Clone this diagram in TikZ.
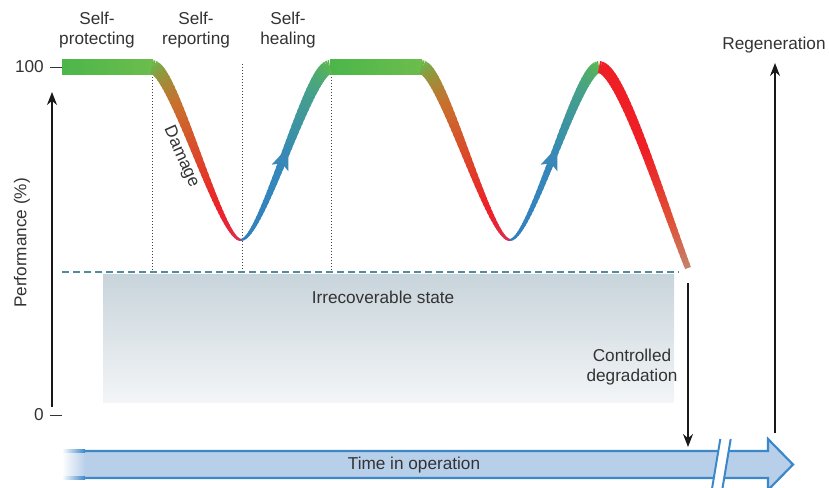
\documentclass[tikz,border=0pt]{standalone}
\usepackage{fontspec}
\setmainfont{Liberation Sans}
\usetikzlibrary{arrows.meta}
\definecolor{txt}{HTML}{333333}
\definecolor{pgreen}{HTML}{4CB64B}
\definecolor{pgreenl}{HTML}{6CBD4C}
\definecolor{dashc}{HTML}{4E8D9C}
\definecolor{greytop}{HTML}{C8D4DB}
\definecolor{greymid}{HTML}{D8E0E5}
\definecolor{greybot}{HTML}{F3F5F7}
\definecolor{tfill}{HTML}{B8CFEA}
\definecolor{tborder}{HTML}{3C87C8}
\definecolor{arrc}{HTML}{3A88B8}
\definecolor{cG}{HTML}{69B54A}
\definecolor{cO}{HTML}{C9702E}
\definecolor{cR}{HTML}{EE2026}
\definecolor{cP}{HTML}{D8305A}
\definecolor{cB}{HTML}{2F7FC1}
\definecolor{cB2}{HTML}{3587BA}
\definecolor{cT}{HTML}{45A08C}
\definecolor{cG2}{HTML}{5CB84C}
\definecolor{cE}{HTML}{E05035}
\definecolor{cF}{HTML}{C4826C}

\newcommand{\setbez}[8]{\def\Ax{#1}\def\Ay{#2}\def\Bx{#3}\def\By{#4}\def\Cx{#5}\def\Cy{#6}\def\Dx{#7}\def\Dy{#8}}
\newcommand{\setstops}[6]{\colorlet{kA}{#1}\colorlet{kB}{#2}\colorlet{kC}{#3}\colorlet{kD}{#4}\def\sA{#5}\def\sB{#6}}
\newcommand{\gcpoint}[1]{%
 \pgfmathsetmacro\gcU{1-#1}%
 \pgfmathsetmacro\gcX{\gcU*\gcU*\gcU*\Ax+3*\gcU*\gcU*#1*\Bx+3*\gcU*#1*#1*\Cx+#1*#1*#1*\Dx}%
 \pgfmathsetmacro\gcY{\gcU*\gcU*\gcU*\Ay+3*\gcU*\gcU*#1*\By+3*\gcU*#1*#1*\Cy+#1*#1*#1*\Dy}}
\newcommand{\gcsetcolor}[1]{%
 \pgfmathsetmacro\gcT{#1}%
 \ifdim\gcT pt<\sA pt
   \pgfmathsetmacro\gcP{100*\gcT/\sA}\colorlet{segc}{kB!\gcP!kA}%
 \else
  \ifdim\gcT pt<\sB pt
   \pgfmathsetmacro\gcP{100*(\gcT-\sA)/(\sB-\sA)}\colorlet{segc}{kC!\gcP!kB}%
  \else
   \pgfmathsetmacro\gcP{100*(\gcT-\sB)/(1-\sB)}\colorlet{segc}{kD!\gcP!kC}%
  \fi
 \fi}
\newcommand{\gccurve}[3]{%
 \foreach \gci in {1,...,#3}{%
  \pgfmathsetmacro\gcTa{(\gci-1)/#3}%
  \pgfmathsetmacro\gcTb{min(1,(\gci+0.5)/#3)}%
  \pgfmathsetmacro\gcTm{(\gci-0.5)/#3}%
  \gcpoint{\gcTa}\let\gcXa\gcX\let\gcYa\gcY
  \gcpoint{\gcTb}\let\gcXb\gcX\let\gcYb\gcY
  \gcsetcolor{\gcTm}%
  \pgfmathsetmacro\gcW{#1+(#2-#1)*\gcTm}%
  \draw[line width=\gcW pt, segc, line cap=butt] (\gcXa,\gcYa) -- (\gcXb,\gcYb);
 }}

\tikzset{
 lbl/.style={text=txt, font=\fontsize{17.2}{20.5}\selectfont, align=center, inner sep=0pt},
 axisarrow/.style={line width=1.3pt, black!90, -{Stealth[length=13pt,width=10pt]}},
 guide/.style={line width=0.7pt, black!75, dash pattern=on 1pt off 2pt},
 tickmark/.style={line width=0.8pt, txt},
 ahead/.style={fill=arrc},
}

\begin{document}
\begin{tikzpicture}[x=1pt,y=-1pt]
\useasboundingbox (0,0) rectangle (829,487);

% irrecoverable region
\shade[top color=greytop, middle color=greymid, bottom color=greybot] (103,274) rectangle (674,402);
\node[lbl] (irr) at (383,297) {Irrecoverable state};
\draw[line width=2pt, dashc, dash pattern=on 7pt off 4pt] (62,272) -- (679,272);

% guides
\coordinate (g1t) at (152,74); \coordinate (g1b) at (152,271);
\coordinate (g2t) at (242,64); \coordinate (g2b) at (242,271);
\coordinate (g3t) at (331,74); \coordinate (g3b) at (331,271);
\draw[guide] (g1t) -- (g1b);
\draw[guide] (g2t) -- (g2b);
\draw[guide] (g3t) -- (g3b);

% plateaus
\shade[left color=pgreen, middle color=pgreen, right color=pgreenl] (62,60) rectangle (153,74);
\shade[left color=pgreen, middle color=pgreen, right color=pgreenl] (330,60) rectangle (422,74);

% curve: damage 1
\setbez{152}{67}{173}{67}{220}{240}{241}{240}
\setstops{cG}{cO}{cR}{cP}{0.3}{0.72}
\gccurve{14}{2}{50}
% curve: healing 1
\setbez{241}{240}{262}{240}{309}{67}{330}{67}
\setstops{cB}{cB2}{cT}{cG2}{0.45}{0.75}
\gccurve{2}{14}{50}
% curve: damage 2
\setbez{421}{67}{442}{67}{489}{240}{510}{240}
\setstops{cG}{cO}{cR}{cP}{0.3}{0.72}
\gccurve{14}{2}{50}
% curve: healing 2
\setbez{510}{240}{531}{240}{578}{67}{599}{67}
\setstops{cB}{cB2}{cT}{cG2}{0.45}{0.75}
\gccurve{2}{12}{50}
% curve: final decline
\setbez{599}{67}{620}{67}{660}{195}{688}{268}
\setstops{cR}{cR}{cE}{cF}{0.55}{0.8}
\gccurve{12}{6}{50}

% arrowheads on healing curves
\fill[ahead, shift={(285.5,154)}, rotate=68.5] (8,0) -- (-15,9) -- (-10,0) -- (-15,-9) -- cycle;
\fill[ahead, shift={(554.5,154)}, rotate=68.5] (8,0) -- (-15,9) -- (-10,0) -- (-15,-9) -- cycle;

% axis
\coordinate (ax0) at (52,407); \coordinate (ax1) at (52,92);
\draw[axisarrow] (ax0) -- (ax1);
\node[lbl, anchor=east] (l100) at (44,67) {100};
\node[lbl, anchor=east] (l0) at (44,415) {0};
\coordinate (t1a) at (50,67); \coordinate (t1b) at (62,67);
\coordinate (t0a) at (50,415); \coordinate (t0b) at (62,415);
\draw[tickmark] (t1a) -- (t1b);
\draw[tickmark] (t0a) -- (t0b);
\node[lbl, rotate=90] (perf) at (22,243) {Performance (\%)};

% top labels
\node[lbl] (sp) at (97,30) {Self-\\protecting};
\node[lbl] (sr) at (196,30) {Self-\\reporting};
\node[lbl] (sh) at (288,30) {Self-\\healing};
\node[lbl, rotate=-66] (dmg) at (181,157) {Damage};

% controlled degradation
\coordinate (cd0) at (688,283); \coordinate (cd1) at (688,447);
\draw[axisarrow] (cd0) -- (cd1);
\node[lbl] (cdl) at (632,367) {Controlled\\degradation};

% regeneration
\coordinate (rg0) at (775,433); \coordinate (rg1) at (775,63);
\draw[axisarrow] (rg0) -- (rg1);
\node[lbl] (rgl) at (774,45) {Regeneration};

% time arrow
\fill[tfill] (84,451) -- (768,451) -- (768,439) -- (793,464.5) -- (768,490) -- (768,478) -- (84,478) -- cycle;
\draw[tborder, line width=2.2pt, line join=miter] (84,451) -- (768,451) -- (768,439) -- (793,464.5) -- (768,490) -- (768,478) -- (84,478);
\shade[left color=white, right color=tfill] (62,452) rectangle (85,477);
\shade[left color=white, right color=tborder] (62,449.9) rectangle (85,452.1);
\shade[left color=white, right color=tborder] (62,476.9) rectangle (85,479.1);
% break
\fill[white] (720.5,437) -- (730.5,437) -- (721.5,492) -- (711.5,492) -- cycle;
\draw[tborder, line width=2pt] (720.3,439) -- (711.8,490);
\draw[tborder, line width=2pt] (730.7,439) -- (722.2,490);
\node[lbl] (time) at (414,465) {Time in operation};
\end{tikzpicture}
\end{document}
